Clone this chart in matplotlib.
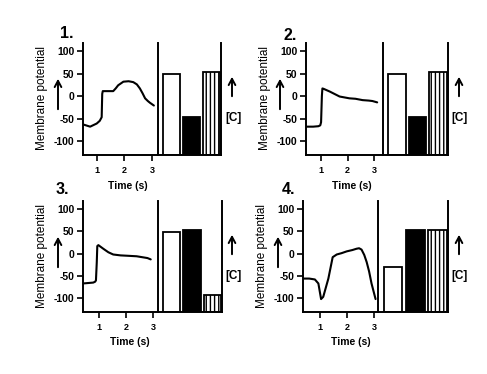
import matplotlib
matplotlib.use("Agg")
import matplotlib.pyplot as plt
from matplotlib.patches import FancyArrowPatch

plt.rcParams['font.family'] = ['Liberation Sans', 'DejaVu Sans']
plt.rcParams['hatch.linewidth'] = 1.0

W, H = 487, 374

# ---- data ----
titles = ["1.", "2.", "3.", "4."]
yticks = [-100, -50, 0, 50, 100]
xticks = [1, 2, 3]

t1 = [0.49, 0.75, 0.99, 1.10, 1.17, 1.19, 1.21, 1.40, 1.59, 1.68, 1.77, 1.96, 2.15, 2.32, 2.45, 2.56, 2.66, 2.75, 2.85, 2.93, 3.07]
v1 = [-63, -68, -61, -55, -47, 5, 11, 11, 11, 17, 24, 32, 33, 31, 26, 17, 6, -5, -11, -15, -21]

t2 = [0.45, 0.70, 0.90, 0.97, 1.00, 1.03, 1.05, 1.10, 1.33, 1.70, 2.07, 2.30, 2.57, 2.80, 2.94, 3.12]
v2 = [-68, -68, -67, -65, -58, 0, 17, 16, 10, -1, -5, -6, -9, -10, -11, -14]

t3 = [0.41, 0.60, 0.79, 0.86, 0.89, 0.92, 0.94, 0.98, 1.16, 1.35, 1.53, 1.80, 2.11, 2.40, 2.60, 2.80, 2.92]
v3 = [-67, -66, -65, -63, -60, -20, 17, 19, 11, 3, -2, -4, -5, -6, -8, -10, -13]

t4 = [0.40, 0.60, 0.81, 0.94, 1.04, 1.12, 1.31, 1.47, 1.62, 1.80, 1.99, 2.20, 2.36, 2.45, 2.54, 2.64, 2.73, 2.82, 2.91, 3.06]
v4 = [-56, -56, -58, -67, -102, -97, -56, -8, -2, 1, 5, 8, 11, 12, 9, -3, -19, -40, -67, -102]

bars1 = [50, -46, 53]
bars2 = [50, -46, 53]
bars3 = [48, 54, -92]
bars4 = [-30, 53, 53]

times = [t1, t2, t3, t4]
volts = [v1, v2, v3, v4]
bars = [bars1, bars2, bars3, bars4]

# ---- layout (pixels) ----
# left, mid, right, top, bottom, xmin, xmax
geom = [
    (83, 158, 221, 43, 155, 0.49, 3.22),
    (306, 383, 448, 43, 155, 0.43, 3.34),
    (83, 158, 222, 201, 312, 0.41, 3.19),
    (303, 378, 448, 201, 312, 0.37, 3.15),
]
title_pos = [(67, 34), (290, 36), (62, 189), (288, 189)]
time_pos = [(128, 186), (352, 186), (130, 342), (351, 342)]
ylab_x = [42, 265, 42, 262]
larrow_x = [58, 280, 58, 278]
carrow_x = [232, 459, 232, 459]

YMIN, YMAX = -131, 118
LW = 1.4

def fx(x):
    return x / W

def fy(y):
    return 1 - y / H

fig = plt.figure(figsize=(W / 100, H / 100), dpi=100)

for i in range(4):
    L, M, R, T, B, xmin, xmax = geom[i]
    ax = fig.add_axes([fx(L), fy(B), fx(M) - fx(L), fy(T) - fy(B)])
    ax.plot(times[i], volts[i], color='black', lw=1.5, solid_capstyle='round')
    ax.set_xlim(xmin, xmax)
    ax.set_ylim(YMIN, YMAX)
    ax.set_xticks(xticks)
    ax.set_yticks(yticks)
    ax.set_xticklabels([str(v) for v in xticks], fontsize=6.5, fontweight='bold')
    ax.set_yticklabels([str(v) for v in yticks], fontsize=7.5, fontweight='bold')
    ax.tick_params(axis='both', direction='out', length=4, width=1.2, pad=2)
    ax.tick_params(axis='x', pad=4)
    for s in ['top', 'right']:
        ax.spines[s].set_visible(False)
    for s in ['left', 'bottom']:
        ax.spines[s].set_linewidth(LW)
    ax.patch.set_alpha(0)

    bx = fig.add_axes([fx(M), fy(B), fx(R) - fx(M), fy(T) - fy(B)])
    xs = list(range(len(bars[i])))
    vals = bars[i]
    bot = YMIN + 1
    hts = [v - bot for v in vals]
    bx.bar(xs[0], hts[0], bottom=bot, width=0.85, facecolor='white', edgecolor='black', lw=1.3)
    bx.bar(xs[1], hts[1], bottom=bot, width=0.85, facecolor='black', edgecolor='black', lw=1.3)
    bx.bar(xs[2], hts[2], bottom=bot, width=0.85, facecolor='white', edgecolor='black', lw=1.3, hatch='||||')
    bx.set_xlim(-0.68, 2.48)
    bx.set_ylim(YMIN, YMAX)
    bx.set_xticks([])
    bx.set_yticks([])
    bx.spines['top'].set_visible(False)
    for s in ['left', 'right', 'bottom']:
        bx.spines[s].set_linewidth(LW)
    bx.patch.set_alpha(0)

    # texts
    tx, ty = title_pos[i]
    fig.text(fx(tx), fy(ty), titles[i], fontsize=11.5, fontweight='bold', ha='center', va='center')
    tx, ty = time_pos[i]
    fig.text(fx(tx), fy(ty), "Time (s)", fontsize=7.5, fontweight='bold', ha='center', va='center')
    fig.text(fx(ylab_x[i]), fy((T + B) / 2 - 1), "Membrane potential", fontsize=8.5,
             rotation=90, ha='center', va='center')

    # left arrow
    ax_x = larrow_x[i]
    a = FancyArrowPatch((fx(ax_x), fy(T + 69)), (fx(ax_x), fy(T + 33)),
                        transform=fig.transFigure, arrowstyle='->,head_length=3,head_width=1.6',
                        lw=1.4, color='black', mutation_scale=1.5)
    fig.add_artist(a)
    # [C] arrow
    cx = carrow_x[i]
    a = FancyArrowPatch((fx(cx), fy(T + 56)), (fx(cx), fy(T + 31)),
                        transform=fig.transFigure, arrowstyle='->,head_length=3,head_width=1.6',
                        lw=1.4, color='black', mutation_scale=1.5)
    fig.add_artist(a)
    fig.text(fx(cx + 1), fy(T + 75), "[C]", fontsize=8.5, fontweight='bold', ha='center', va='center')

fig.savefig("out.png", dpi=100)
